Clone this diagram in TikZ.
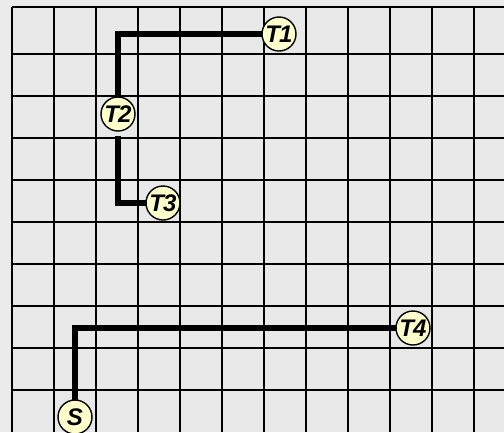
\documentclass[tikz,border=0pt]{standalone}
\usepackage{fontspec}
\newfontfamily\labfont{Liberation Sans}
\definecolor{bgc}{HTML}{EBEBEB}
\definecolor{cellc}{HTML}{E8E8E8}
\definecolor{nodefill}{HTML}{FFFFCC}
\pgfdeclarelayer{edges}
\pgfsetlayers{edges,main}
\tikzset{
  gridline/.style={line width=2pt, black},
  route/.style={line width=5.5pt, black, line join=miter},
  tnode/.style={circle, draw=black, line width=1.4pt, fill=nodefill, minimum size=34pt, inner sep=0pt,
    font=\labfont\bfseries\itshape\fontsize{24}{24}\selectfont}
}
\begin{document}
\begin{tikzpicture}[x=1pt,y=-1pt]
\useasboundingbox (0,0) rectangle (504,432);
\begin{pgfonlayer}{edges}
\fill[bgc] (0,0) rectangle (504,432);
\fill[cellc] (12,7) rectangle (504,432);
\foreach \x in {12,54,96,138,180,222,264,306,348,390,432,474}
  \draw[gridline] (\x,7) -- (\x,432);
\foreach \y in {7,54,96,138,180,222,264,306,348,390}
  \draw[gridline] (12,\y) -- (504,\y);
\end{pgfonlayer}

\node[tnode] (t1) at (279,34) {T\kern-1pt1};
\node[tnode] (t2) at (118,114) {T\kern-1pt2};
\node[tnode] (t3) at (163,203) {T\kern-1pt3};
\node[tnode] (t4) at (413,328) {T\kern-1pt4};
\node[tnode] (s) at (75,417) {S};

\begin{pgfonlayer}{edges}
\draw[route] (t1.center) -| (t2.center);
\draw[route] ([yshift=-4pt]t2.south) |- (t3.center);
\draw[route] (s.center) |- (t4.center);
\end{pgfonlayer}
\end{tikzpicture}
\end{document}
